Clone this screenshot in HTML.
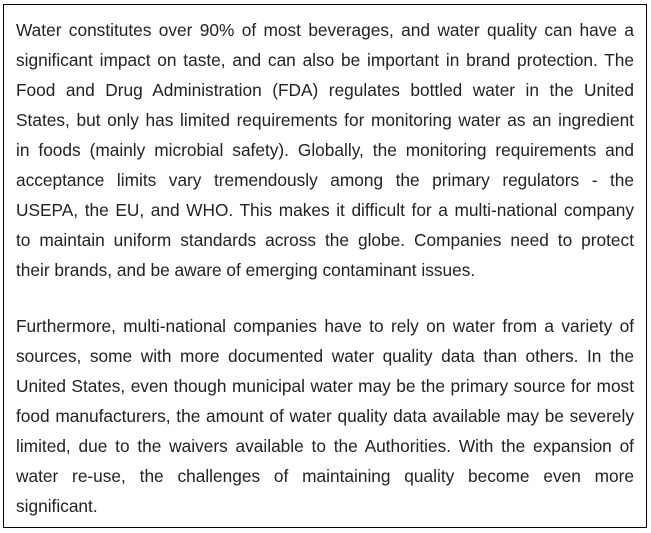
<!DOCTYPE html>
<html><head><meta charset="utf-8"><style>
html,body{margin:0;padding:0;width:651px;height:533px;background:#fff;overflow:hidden}
#box{position:absolute;left:3px;top:4px;width:642px;height:522px;border:1px solid #000;box-sizing:content-box}
.p{position:absolute;left:12px;width:618px;font-family:"Liberation Sans",Arial,sans-serif;font-size:17.3px;line-height:30px;color:#222}
.p span{display:block;white-space:nowrap;text-align:justify;text-align-last:justify}
.p span.l{text-align-last:left}
</style></head><body>
<div id="box">
<div class="p" style="top:10px">
<span>Water constitutes over 90% of most beverages, and water quality can have a</span>
<span>significant impact on taste, and can also be important in brand protection. The</span>
<span>Food and Drug Administration (FDA) regulates bottled water in the United</span>
<span>States, but only has limited requirements for monitoring water as an ingredient</span>
<span>in foods (mainly microbial safety). Globally, the monitoring requirements and</span>
<span>acceptance limits vary tremendously among the primary regulators - the</span>
<span>USEPA, the EU, and WHO. This makes it difficult for a multi-national company</span>
<span>to maintain uniform standards across the globe. Companies need to protect</span>
<span class="l">their brands, and be aware of emerging contaminant issues.</span>
</div>
<div class="p" style="top:306px">
<span>Furthermore, multi-national companies have to rely on water from a variety of</span>
<span>sources, some with more documented water quality data than others. In the</span>
<span>United States, even though municipal water may be the primary source for most</span>
<span>food manufacturers, the amount of water quality data available may be severely</span>
<span>limited, due to the waivers available to the Authorities. With the expansion of</span>
<span>water re-use, the challenges of maintaining quality become even more</span>
<span class="l">significant.</span>
</div>
</div>
</body></html>
